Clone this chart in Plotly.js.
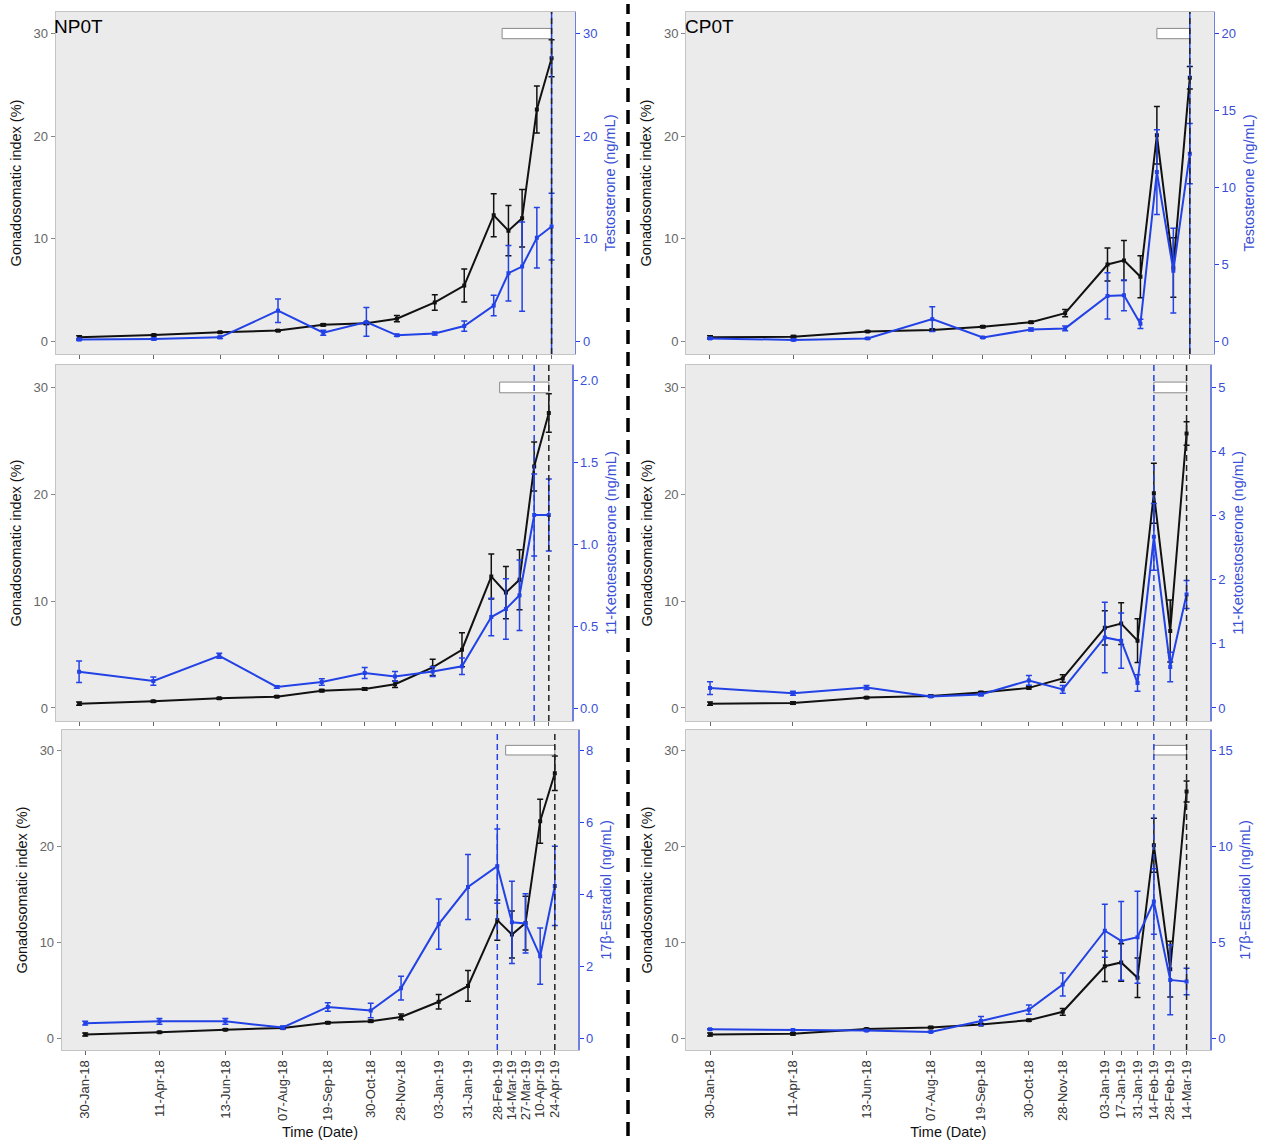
<!DOCTYPE html>
<html>
<head>
<meta charset="utf-8">
<script src="https://cdn.plot.ly/plotly-3.0.1.min.js"></script>
<style>html,body{margin:0;padding:0;background:#fff;}#chart{width:1267px;height:1144px;}</style>
</head>
<body>
<div id="chart"></div>
<script>
// ---------- DATA ----------
const datesNP = ['2018-01-30','2018-04-11','2018-06-13','2018-08-07','2018-09-19','2018-10-30','2018-11-28','2019-01-03','2019-01-31','2019-02-28','2019-03-14','2019-03-27','2019-04-10','2019-04-24'];
const tickTextNP = ['30-Jan-18','11-Apr-18','13-Jun-18','07-Aug-18','19-Sep-18','30-Oct-18','28-Nov-18','03-Jan-19','31-Jan-19','28-Feb-19','14-Mar-19','27-Mar-19','10-Apr-19','24-Apr-19'];
const gsiNP    = [0.40, 0.62, 0.90, 1.06, 1.62, 1.78, 2.22, 3.80, 5.45, 12.3, 10.8, 12.0, 22.6, 27.6];
const gsiNPerr = [0.15, 0.08, 0.08, 0.08, 0.10, 0.12, 0.30, 0.76, 1.60, 2.10, 2.45, 2.80, 2.30, 1.80];
const tNP      = [0.20, 0.25, 0.40, 3.00, 0.85, 1.90, 0.60, 0.77, 1.50, 3.50, 6.65, 7.30, 10.1, 11.2];
const tNPerr   = [0.10, 0.10, 0.10, 1.15, 0.25, 1.40, 0.10, 0.15, 0.50, 1.00, 2.70, 4.35, 2.95, 3.25];
const ktNP     = [0.223, 0.166, 0.320, 0.130, 0.160, 0.215, 0.194, 0.224, 0.256, 0.557, 0.606, 0.690, 1.18, 1.18];
const ktNPerr  = [0.066, 0.025, 0.015, 0.008, 0.020, 0.033, 0.030, 0.030, 0.050, 0.115, 0.185, 0.215, 0.25, 0.22];
const e2NP     = [0.42, 0.47, 0.47, 0.30, 0.87, 0.77, 1.39, 3.17, 4.20, 4.78, 3.22, 3.19, 2.28, 4.23];
const e2NPerr  = [0.05, 0.08, 0.08, 0.04, 0.12, 0.20, 0.33, 0.70, 0.90, 1.03, 1.14, 0.82, 0.78, 1.10];

const datesCP = ['2018-01-30','2018-04-11','2018-06-13','2018-08-07','2018-09-19','2018-10-30','2018-11-28','2019-01-03','2019-01-17','2019-01-31','2019-02-14','2019-02-28','2019-03-14'];
const tickTextCP = ['30-Jan-18','11-Apr-18','13-Jun-18','07-Aug-18','19-Sep-18','30-Oct-18','28-Nov-18','03-Jan-19','17-Jan-19','31-Jan-19','14-Feb-19','28-Feb-19','14-Mar-19'];
const gsiCP    = [0.40, 0.46, 0.97, 1.12, 1.44, 1.88, 2.76, 7.50, 7.90, 6.30, 20.1, 7.20, 25.7];
const gsiCPerr = [0.15, 0.12, 0.08, 0.10, 0.10, 0.10, 0.35, 1.60, 1.95, 2.05, 2.80, 2.90, 1.10];
const tCP      = [0.20, 0.10, 0.20, 1.45, 0.26, 0.78, 0.85, 2.96, 3.00, 1.15, 11.0, 4.60, 12.2];
const tCPerr   = [0.05, 0.05, 0.05, 0.80, 0.05, 0.10, 0.15, 1.50, 1.00, 0.30, 2.75, 2.75, 1.95];
const ktCP     = [0.31, 0.23, 0.32, 0.18, 0.21, 0.43, 0.29, 1.10, 1.05, 0.39, 2.67, 0.64, 1.77];
const ktCPerr  = [0.10, 0.03, 0.03, 0.01, 0.02, 0.075, 0.06, 0.55, 0.43, 0.13, 0.52, 0.23, 0.22];
const e2CP     = [0.47, 0.43, 0.40, 0.33, 0.90, 1.49, 2.80, 5.60, 5.07, 5.26, 7.12, 3.04, 2.95];
const e2CPerr  = [0.03, 0.03, 0.03, 0.03, 0.23, 0.24, 0.60, 1.38, 2.05, 2.40, 1.70, 1.82, 0.69];

const gsiTicks = [0, 10, 20, 30];
const hormoneTitles = ['Testosterone (ng/mL)', '11-Ketotestosterone (ng/mL)', '17\u03B2-Estradiol (ng/mL)'];
const panelLabels = ['NP0T', 'CP0T'];
// vertical reference dates (blue dashed = hormone peak, black dashed = GSI peak), and box start
const blueLineNP = ['2019-04-24', '2019-04-10', '2019-02-28'];
const blueLineCP = ['2019-03-14', '2019-02-14', '2019-02-14'];
const boxStartNP = '2019-03-08';
const boxStartCP = '2019-02-14';

// ---------- LAYOUT HELPERS ----------
const W = 1267, H = 1144;
const BLUE = '#2342e6';
const BLUE_TXT = '#3a4fd6';
const dx = (a, b) => [a / W, b / W];
const dy = (top, bot) => [1 - bot / H, 1 - top / H];

function expandRange(dates) {
  const t0 = new Date(dates[0] + 'T00:00:00Z').getTime();
  const t1 = new Date(dates[dates.length - 1] + 'T00:00:00Z').getTime();
  const e = (t1 - t0) * 0.05;
  const f = t => new Date(t).toISOString().replace('T', ' ').slice(0, 19);
  return [f(t0 - e), f(t1 + e)];
}

const gsiRange = [-1.22, 32.1];
const panels = [
  {col:0, row:0, dates:datesNP, tt:tickTextNP, gsi:gsiNP, gsiE:gsiNPerr, h:tNP,  hE:tNPerr,  hr:[-1.22, 32.1],   hTicks:[0,10,20,30],          fmt:'',   xd:[55.5,575.2], yd:[12,354],   blue:blueLineNP[0], blackLine:true, box:boxStartNP, overlapTop:true},
  {col:1, row:0, dates:datesCP, tt:tickTextCP, gsi:gsiCP, gsiE:gsiCPerr, h:tCP,  hE:tCPerr,  hr:[-0.813, 21.4],  hTicks:[0,5,10,15,20],        fmt:'',   xd:[686,1213.8], yd:[12,354],   blue:blueLineCP[0], box:boxStartCP, overlapTop:true},
  {col:0, row:1, dates:datesNP, tt:tickTextNP, gsi:gsiNP, gsiE:gsiNPerr, h:ktNP, hE:ktNPerr, hr:[-0.078, 2.096], hTicks:[0,0.5,1,1.5,2],       fmt:'.1f',xd:[55.6,572.3], yd:[365,721],  blue:blueLineNP[1], box:boxStartNP},
  {col:1, row:1, dates:datesCP, tt:tickTextCP, gsi:gsiCP, gsiE:gsiCPerr, h:ktCP, hE:ktCPerr, hr:[-0.203, 5.35],  hTicks:[0,1,2,3,4,5],         fmt:'',   xd:[686.2,1210.4], yd:[365,721], blue:blueLineCP[1], box:boxStartCP},
  {col:0, row:2, dates:datesNP, tt:tickTextNP, gsi:gsiNP, gsiE:gsiNPerr, h:e2NP, hE:e2NPerr, hr:[-0.325, 8.56],  hTicks:[0,2,4,6,8],           fmt:'',   xd:[61.7,578.3], yd:[730,1050], blue:blueLineNP[2], box:boxStartNP},
  {col:1, row:2, dates:datesCP, tt:tickTextCP, gsi:gsiCP, gsiE:gsiCPerr, h:e2CP, hE:e2CPerr, hr:[-0.61, 16.05],  hTicks:[0,5,10,15],           fmt:'',   xd:[686.2,1210.4], yd:[730,1050], blue:blueLineCP[2], box:boxStartCP}
];

const data = [];
const layout = {
  width: W, height: H,
  margin: {l:0, r:0, t:0, b:0},
  paper_bgcolor: '#ffffff',
  plot_bgcolor: '#ebebeb',
  showlegend: false,
  font: {family: '"Liberation Sans", Arial, sans-serif', size: 13, color: '#333'},
  shapes: [],
  annotations: []
};

panels.forEach((p, i) => {
  const n = i + 1;
  const xa = 'x' + (n === 1 ? '' : n);
  const ya = 'y' + (n === 1 ? '' : n);
  const yr = 'y' + (n + 6);
  const xKey = 'xaxis' + (n === 1 ? '' : n);
  const yKey = 'yaxis' + (n === 1 ? '' : n);
  const yrKey = 'yaxis' + (n + 6);
  const bottom = p.row === 2;

  layout[xKey] = {
    domain: dx(p.xd[0], p.xd[1]), anchor: ya, type: 'date',
    range: expandRange(p.dates),
    tickmode: 'array', tickvals: p.dates, ticktext: p.tt,
    showticklabels: bottom, tickangle: -90,
    tickfont: {size: 13, color: '#333'},
    ticks: 'outside', ticklen: 4, tickcolor: '#666', tickwidth: 1,
    showgrid: false, zeroline: false,
    showline: true, linecolor: '#c4c4c4', linewidth: 1, mirror: true,
    title: bottom ? {text: 'Time (Date)', font: {size: 14.5, color: '#111'}, standoff: 6} : {text: ''}
  };
  layout[yKey] = {
    domain: dy(p.yd[0], p.yd[1]), anchor: xa,
    range: gsiRange, tickmode: 'array', tickvals: gsiTicks,
    tickfont: {size: 13, color: '#666'},
    ticks: 'outside', ticklen: 4, tickcolor: '#888',
    showgrid: false, zeroline: false,
    showline: true, linecolor: '#c4c4c4', linewidth: 1,
    title: {text: 'Gonadosomatic index (%)', font: {size: 14.5, color: '#111'}, standoff: 8}
  };
  layout[yrKey] = {
    overlaying: ya, side: 'right', anchor: xa,
    range: p.hr, tickmode: 'array', tickvals: p.hTicks, tickformat: p.fmt,
    tickfont: {size: 13, color: BLUE_TXT},
    ticks: 'outside', ticklen: 4, tickcolor: BLUE,
    showgrid: false, zeroline: false,
    showline: true, linecolor: '#6f7fe0', linewidth: 1.2,
    title: {text: hormoneTitles[p.row], font: {size: 14.5, color: BLUE_TXT}, standoff: 8}
  };

  data.push({
    type: 'scatter', mode: 'lines+markers', x: p.dates, y: p.gsi,
    xaxis: xa, yaxis: ya,
    line: {color: '#111', width: 2}, marker: {color: '#111', size: 4, symbol: 'square'},
    error_y: {type: 'data', array: p.gsiE, visible: true, color: '#111', thickness: 1.5, width: 3},
    hoverinfo: 'skip'
  });
  data.push({
    type: 'scatter', mode: 'lines+markers', x: p.dates, y: p.h,
    xaxis: xa, yaxis: yr,
    line: {color: BLUE, width: 2}, marker: {color: BLUE, size: 4, symbol: 'square'},
    error_y: {type: 'data', array: p.hE, visible: true, color: BLUE, thickness: 1.5, width: 3},
    hoverinfo: 'skip'
  });

  const last = p.dates[p.dates.length - 1];
  // white box marking the period
  layout.shapes.push({type: 'rect', xref: xa, yref: ya, x0: p.box, x1: last, y0: 29.5, y1: 30.5,
    fillcolor: '#ffffff', line: {color: '#8a8a8a', width: 1}, layer: 'above'});
  if (p.overlapTop) {
    layout.shapes.push({type: 'line', xref: xa, yref: ya + ' domain', x0: p.blue, x1: p.blue, y0: 0, y1: 1,
      line: {color: BLUE, width: 1.5}, layer: 'above'});
  } else {
    layout.shapes.push({type: 'line', xref: xa, yref: ya + ' domain', x0: p.blue, x1: p.blue, y0: 0, y1: 1,
      line: {color: BLUE, width: 1.5, dash: '6px,4px'}, layer: 'above'});
  }
  layout.shapes.push({type: 'line', xref: xa, yref: ya + ' domain', x0: last, x1: last, y0: 0, y1: 1,
    line: {color: '#222', width: 1.5, dash: '6px,4px'}, layer: 'above'});

  if (p.row === 0) {
    layout.annotations.push({xref: 'paper', yref: 'paper', x: p.xd[0] / W - 0.0025, y: 1 - 14 / H,
      xanchor: 'left', yanchor: 'top', showarrow: false, text: panelLabels[p.col],
      font: {size: 19, color: '#000'}});
  }
});

// central dashed separator
layout.shapes.push({type: 'line', xref: 'paper', yref: 'paper', x0: 628 / W, x1: 628 / W, y0: 1 - 1136 / H, y1: 1 - 4 / H,
  line: {color: '#000', width: 3.5, dash: '14px,8px'}});

Plotly.newPlot('chart', data, layout, {displayModeBar: false, staticPlot: true});
</script>
</body>
</html>
